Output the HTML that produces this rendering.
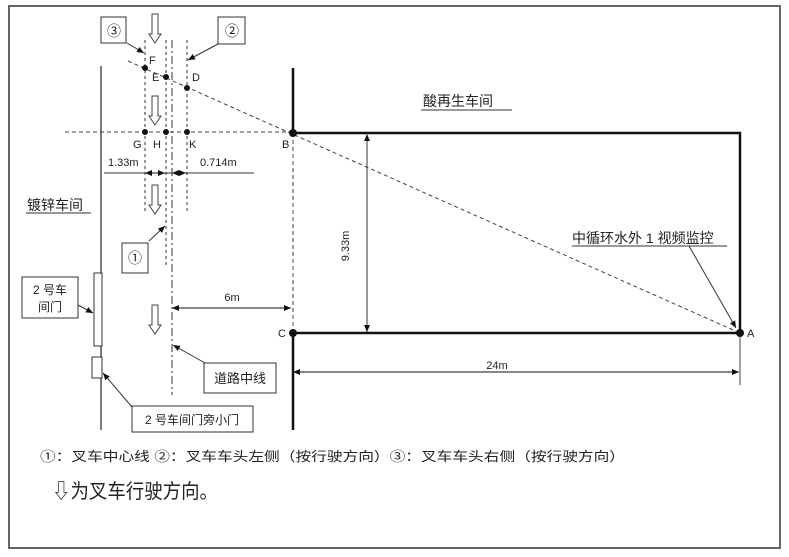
<!DOCTYPE html>
<html><head><meta charset="utf-8"><style>
html,body{margin:0;padding:0;background:#fff;}
svg{display:block;}
text{font-family:"Liberation Sans","Noto Sans CJK SC",sans-serif;fill:#222;}
</style></head><body>
<svg width="789" height="557" viewBox="0 0 789 557" xmlns="http://www.w3.org/2000/svg">
<defs>
<marker id="ar" markerWidth="8" markerHeight="8" refX="7" refY="4" orient="auto" markerUnits="userSpaceOnUse">
<path d="M0,1 L7,4 L0,7 Z" fill="#111"/></marker>
<marker id="as" markerWidth="8" markerHeight="8" refX="1" refY="4" orient="auto" markerUnits="userSpaceOnUse">
<path d="M7,1 L0,4 L7,7 Z" fill="#111"/></marker>
<g id="darr"><path d="M-3,0 L3,0 L3,20 L6,20 L0,29 L-6,20 L-3,20 Z" fill="#fff" stroke="#444" stroke-width="1"/></g>
</defs>
<rect x="9" y="6" width="771" height="542" fill="none" stroke="#666" stroke-width="2"/>

<line x1="101" y1="66" x2="101" y2="430" stroke="#333" stroke-width="1.3"/>
<line x1="145" y1="40" x2="145" y2="213" stroke="#333" stroke-dasharray="3,3"/>
<line x1="166" y1="40" x2="166" y2="265" stroke="#333" stroke-dasharray="3,3"/>
<line x1="172" y1="40" x2="172" y2="395" stroke="#333" stroke-dasharray="8,3,2,3"/>
<line x1="187" y1="40" x2="187" y2="213" stroke="#333" stroke-dasharray="3,3"/>
<line x1="128" y1="61" x2="740" y2="333" stroke="#444" stroke-dasharray="4,3"/>
<line x1="65" y1="132" x2="293" y2="132" stroke="#444" stroke-dasharray="4,3"/>
<line x1="293" y1="68" x2="293" y2="133" stroke="#111" stroke-width="2.5"/>
<line x1="293" y1="133" x2="293" y2="333" stroke="#444" stroke-dasharray="4,3"/>
<line x1="293" y1="333" x2="293" y2="430" stroke="#111" stroke-width="2.5"/>
<polyline points="293,133 740,133 740,333 293,333" fill="none" stroke="#111" stroke-width="2.5"/>
<line x1="740" y1="333" x2="740" y2="385" stroke="#444"/>

<g fill="#111">
<circle cx="145" cy="68" r="3"/><circle cx="166" cy="77" r="3"/><circle cx="187" cy="88" r="3"/>
<circle cx="145" cy="132" r="3"/><circle cx="166" cy="132" r="3"/><circle cx="187" cy="132" r="3"/>
<circle cx="293" cy="133" r="4"/><circle cx="293" cy="333" r="4"/><circle cx="740" cy="333" r="4"/>
</g>
<g font-size="11">
<text x="149" y="64">F</text><text x="152" y="81">E</text><text x="192" y="81">D</text>
<text x="133" y="148">G</text><text x="153" y="148">H</text><text x="189" y="148">K</text>
<text x="282" y="148">B</text><text x="278" y="337">C</text><text x="747" y="337">A</text>
</g>

<use href="#darr" x="155" y="14"/><use href="#darr" x="155" y="96"/>
<use href="#darr" x="155" y="185"/><use href="#darr" x="155" y="305"/>

<rect x="101" y="17" width="25" height="26" fill="#fff" stroke="#333"/>
<text x="107" y="36" font-size="14">③</text>
<line x1="127" y1="43" x2="144" y2="53" stroke="#333" marker-end="url(#ar)"/>
<rect x="218" y="17" width="27" height="27" fill="#fff" stroke="#333"/>
<text x="225" y="36" font-size="14">②</text>
<line x1="218" y1="44" x2="188" y2="60" stroke="#333" marker-end="url(#ar)"/>
<rect x="122" y="243" width="26" height="30" fill="#fff" stroke="#333"/>
<text x="128" y="263" font-size="14">①</text>
<line x1="149" y1="241" x2="165" y2="226" stroke="#333" marker-end="url(#ar)"/>

<line x1="104" y1="173" x2="254" y2="173" stroke="#333"/>
<line x1="146" y1="173" x2="165" y2="173" stroke="#111" marker-start="url(#as)" marker-end="url(#ar)"/>
<line x1="173" y1="173" x2="186" y2="173" stroke="#111" marker-start="url(#as)" marker-end="url(#ar)"/>
<text x="108" y="166" font-size="11">1.33m</text>
<text x="200" y="166" font-size="11">0.714m</text>

<text x="27" y="210" font-size="14">镀锌车间</text>
<line x1="26" y1="213" x2="91" y2="213" stroke="#333"/>
<text x="423" y="106" font-size="14">酸再生车间</text>
<line x1="421" y1="110" x2="512" y2="110" stroke="#333"/>

<line x1="367" y1="135" x2="367" y2="332" stroke="#333" marker-start="url(#as)" marker-end="url(#ar)"/>
<text x="0" y="0" font-size="11" transform="translate(349,246) rotate(-90)" text-anchor="middle">9.33m</text>

<text x="572" y="243" font-size="14">中循环水外 1 视频监控</text>
<line x1="572" y1="246" x2="727" y2="246" stroke="#333"/>
<line x1="689" y1="246" x2="736" y2="328" stroke="#333" marker-end="url(#ar)"/>

<line x1="294" y1="372" x2="739" y2="372" stroke="#111" marker-start="url(#as)" marker-end="url(#ar)"/>
<text x="497" y="369" font-size="11" text-anchor="middle">24m</text>

<line x1="173" y1="308" x2="291" y2="308" stroke="#111" marker-start="url(#as)" marker-end="url(#ar)"/>
<text x="232" y="301" font-size="11" text-anchor="middle">6m</text>

<rect x="94" y="273" width="8" height="73" fill="#fff" stroke="#333"/>
<rect x="22" y="277" width="56" height="41" fill="#fff" stroke="#333"/>
<text x="50" y="294" font-size="12" text-anchor="middle">2 号车</text>
<text x="50" y="311" font-size="12" text-anchor="middle">间门</text>
<line x1="78" y1="305" x2="93" y2="313" stroke="#333" marker-end="url(#ar)"/>
<rect x="92" y="357" width="10" height="21" fill="#fff" stroke="#333"/>
<rect x="132" y="406" width="121" height="26" fill="#fff" stroke="#333"/>
<text x="192" y="424" font-size="12" text-anchor="middle">2 号车间门旁小门</text>
<line x1="132" y1="407" x2="103" y2="373" stroke="#333" marker-end="url(#ar)"/>
<rect x="204" y="363" width="72" height="30" fill="#fff" stroke="#333"/>
<text x="240" y="383" font-size="13" text-anchor="middle">道路中线</text>
<line x1="205" y1="363" x2="173" y2="345" stroke="#333" marker-end="url(#ar)"/>

<text x="40" y="461" font-size="13" textLength="585" lengthAdjust="spacingAndGlyphs">①：叉车中心线  ②：叉车车头左侧（按行驶方向）③：叉车车头右侧（按行驶方向）</text>
<text x="52" y="498" font-size="20" textLength="166" lengthAdjust="spacingAndGlyphs">⇩为叉车行驶方向。</text>
</svg>
</body></html>
